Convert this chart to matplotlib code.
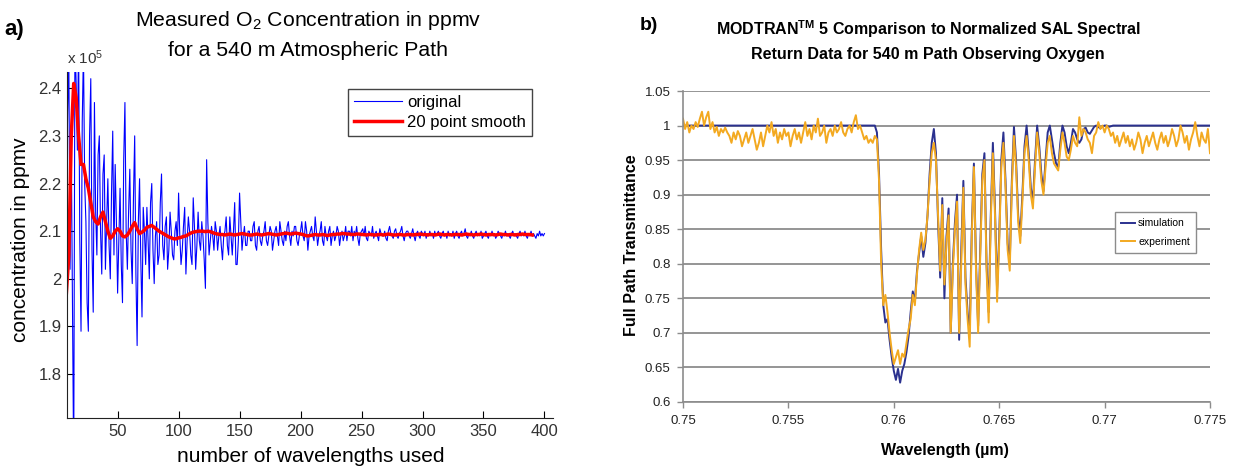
import numpy as np
import matplotlib
matplotlib.use("Agg")
import matplotlib.pyplot as plt
from matplotlib.ticker import FuncFormatter

# ---- a) O2 concentration vs number of wavelengths (values in units of 1e5 ppmv)
n_orig = np.arange(8, 401)
conc_orig = [
    2.16, 2.35, 2.46, 2.02, 2.28, 1.95, 1.60, 2.50, 2.41, 2.27,
    2.50, 2.08, 1.89, 2.33, 2.48, 2.20, 2.12, 1.95, 1.89, 2.30,
    2.42, 2.06, 1.93, 2.37, 2.14, 2.05, 2.26, 2.30, 2.10, 2.01,
    2.22, 2.26, 2.02, 2.12, 2.21, 2.07, 2.00, 2.18, 2.31, 2.05,
    2.24, 2.12, 1.97, 2.08, 2.19, 2.03, 1.95, 2.25, 2.37, 2.10,
    2.02, 2.14, 2.23, 2.06, 1.99, 2.17, 2.30, 2.01, 1.86, 2.12,
    2.21, 2.04, 1.92, 2.15, 2.10, 2.03, 2.15, 2.08, 2.00, 2.16,
    2.20, 2.06, 1.99, 2.09, 2.12, 2.03, 2.05, 2.16, 2.22, 2.07,
    2.04, 2.11, 2.13, 2.02, 2.06, 2.14, 2.10, 2.05, 2.04, 2.10,
    2.12, 2.07, 2.18, 2.09, 2.03, 2.06, 2.11, 2.15, 2.01, 2.08,
    2.13, 2.10, 2.05, 2.03, 2.17, 2.11, 2.02, 2.07, 2.14, 2.08,
    2.06, 2.12, 2.09, 2.04, 1.98, 2.25, 2.12, 2.05, 2.08, 2.11,
    2.09, 2.06, 2.12, 2.10, 2.06, 2.09, 2.11, 2.07, 2.04, 2.09,
    2.10, 2.13, 2.07, 2.05, 2.13, 2.09, 2.05, 2.10, 2.16, 2.03,
    2.03, 2.08, 2.18, 2.12, 2.06, 2.09, 2.11, 2.07, 2.07, 2.10,
    2.10, 2.08, 2.08, 2.11, 2.12, 2.07, 2.06, 2.10, 2.11, 2.08,
    2.07, 2.09, 2.10, 2.12, 2.08, 2.07, 2.09, 2.11, 2.10, 2.06,
    2.08, 2.10, 2.11, 2.09, 2.07, 2.12, 2.10, 2.08, 2.07, 2.10,
    2.08, 2.11, 2.12, 2.09, 2.07, 2.10, 2.09, 2.11, 2.11, 2.08,
    2.07, 2.09, 2.10, 2.12, 2.09, 2.08, 2.12, 2.10, 2.06, 2.09,
    2.10, 2.11, 2.09, 2.08, 2.13, 2.10, 2.07, 2.09, 2.10, 2.12,
    2.08, 2.07, 2.11, 2.09, 2.08, 2.10, 2.11, 2.07, 2.09, 2.10,
    2.08, 2.09, 2.11, 2.10, 2.07, 2.09, 2.10, 2.08, 2.09, 2.11,
    2.08, 2.10, 2.10, 2.09, 2.11, 2.08, 2.10, 2.09, 2.11, 2.085,
    2.07, 2.095, 2.10, 2.105, 2.09, 2.11, 2.085, 2.08, 2.10, 2.095,
    2.09, 2.11, 2.085, 2.095, 2.10, 2.09, 2.08, 2.105, 2.095, 2.09,
    2.09, 2.10, 2.085, 2.08, 2.10, 2.11, 2.095, 2.09, 2.085, 2.10,
    2.105, 2.09, 2.085, 2.095, 2.10, 2.11, 2.09, 2.08, 2.095, 2.10,
    2.10, 2.09, 2.085, 2.095, 2.105, 2.09, 2.08, 2.095, 2.10, 2.09,
    2.085, 2.10, 2.095, 2.09, 2.10, 2.085, 2.095, 2.09, 2.10, 2.09,
    2.095, 2.085, 2.10, 2.09, 2.095, 2.10, 2.09, 2.085, 2.095, 2.10,
    2.09, 2.095, 2.085, 2.10, 2.09, 2.095, 2.09, 2.10, 2.085, 2.095,
    2.10, 2.09, 2.085, 2.095, 2.10, 2.09, 2.095, 2.105, 2.09, 2.085,
    2.095, 2.09, 2.10, 2.09, 2.085, 2.095, 2.10, 2.09, 2.095, 2.09,
    2.10, 2.085, 2.09, 2.095, 2.10, 2.09, 2.085, 2.095, 2.09, 2.10,
    2.09, 2.095, 2.085, 2.09, 2.10, 2.095, 2.09, 2.085, 2.095, 2.09,
    2.10, 2.09, 2.095, 2.09, 2.085, 2.095, 2.10, 2.09, 2.095, 2.09,
    2.085, 2.095, 2.10, 2.09, 2.095, 2.09, 2.10, 2.09, 2.085, 2.095,
    2.09, 2.10, 2.09, 2.095, 2.09, 2.085, 2.095, 2.09, 2.10, 2.09,
    2.095, 2.09, 2.095,
]
n_smooth = np.arange(8, 391, 2)
conc_smooth = [
    1.97, 2.05, 2.30, 2.41, 2.38, 2.30, 2.24, 2.24, 2.21, 2.19,
    2.16, 2.13, 2.12, 2.115, 2.13, 2.14, 2.12, 2.10, 2.085, 2.09,
    2.10, 2.105, 2.10, 2.09, 2.088, 2.092, 2.10, 2.11, 2.118, 2.105,
    2.095, 2.098, 2.102, 2.108, 2.11, 2.112, 2.108, 2.104, 2.10, 2.097,
    2.094, 2.091, 2.088, 2.086, 2.084, 2.084, 2.086, 2.087, 2.089, 2.090,
    2.093, 2.096, 2.098, 2.099, 2.100, 2.100, 2.100, 2.099, 2.100, 2.099,
    2.097, 2.095, 2.094, 2.093, 2.093, 2.092, 2.093, 2.094, 2.093, 2.092,
    2.093, 2.094, 2.095, 2.094, 2.093, 2.092, 2.092, 2.093, 2.094, 2.093,
    2.092, 2.093, 2.094, 2.095, 2.094, 2.093, 2.092, 2.093, 2.094, 2.095,
    2.096, 2.095, 2.094, 2.095, 2.096, 2.095, 2.094, 2.093, 2.091, 2.090,
    2.091, 2.092, 2.093, 2.092, 2.092, 2.093, 2.092, 2.091, 2.092, 2.093,
    2.093, 2.094, 2.094, 2.095, 2.095, 2.094, 2.094, 2.093, 2.093, 2.094,
    2.094, 2.093, 2.093, 2.092, 2.093, 2.093, 2.092, 2.092, 2.093, 2.093,
    2.092, 2.093, 2.094, 2.093, 2.092, 2.092, 2.093, 2.093, 2.092, 2.092,
    2.093, 2.093, 2.092, 2.093, 2.093, 2.094, 2.093, 2.093, 2.092, 2.093,
    2.093, 2.092, 2.093, 2.094, 2.093, 2.092, 2.093, 2.093, 2.092, 2.093,
    2.093, 2.093, 2.092, 2.093, 2.094, 2.093, 2.093, 2.092, 2.093, 2.093,
    2.094, 2.093, 2.092, 2.093, 2.093, 2.093, 2.092, 2.093, 2.094, 2.093,
    2.093, 2.092, 2.093, 2.093, 2.092, 2.093, 2.093, 2.094, 2.093, 2.093,
    2.093, 2.092,
]

# ---- b) MODTRAN simulation vs measured transmittance, 0.1 nm steps
wavelength = np.linspace(0.75, 0.775, 251)
simulation = [
    1.0, 1.0, 1.0, 1.0, 1.0, 1.0, 1.0, 1.0, 1.0, 1.0, 1.0, 1.0, 1.0, 1.0, 1.0, 1.0, 1.0, 1.0, 1.0, 1.0,
    1.0, 1.0, 1.0, 1.0, 1.0, 1.0, 1.0, 1.0, 1.0, 1.0, 1.0, 1.0, 1.0, 1.0, 1.0, 1.0, 1.0, 1.0, 1.0, 1.0,
    1.0, 1.0, 1.0, 1.0, 1.0, 1.0, 1.0, 1.0, 1.0, 1.0, 1.0, 1.0, 1.0, 1.0, 1.0, 1.0, 1.0, 1.0, 1.0, 1.0,
    1.0, 1.0, 1.0, 1.0, 1.0, 1.0, 1.0, 1.0, 1.0, 1.0, 1.0, 1.0, 1.0, 1.0, 1.0, 1.0, 1.0, 1.0, 1.0, 1.0,
    1.0, 1.0, 1.0, 1.0, 1.0, 1.0, 1.0, 1.0, 1.0, 1.0, 1.0, 1.0,
    0.99, 0.93, 0.82, 0.74, 0.715, 0.72, 0.69, 0.665,
    0.645, 0.632, 0.648, 0.628, 0.645, 0.655, 0.672, 0.695, 0.73, 0.76,
    0.745, 0.79, 0.815, 0.84, 0.81, 0.83, 0.87, 0.93, 0.975, 0.995,
    0.96, 0.86, 0.78, 0.895, 0.75, 0.84, 0.88, 0.70, 0.80, 0.86,
    0.90, 0.69, 0.82, 0.92, 0.78, 0.73, 0.70, 0.85, 0.945, 0.80,
    0.71, 0.82, 0.93, 0.96, 0.80, 0.73, 0.87, 0.975, 0.88, 0.76,
    0.84, 0.95, 0.99, 0.92, 0.83, 0.80, 0.92, 0.998, 0.95, 0.87,
    0.84, 0.90, 0.97, 1.0, 0.96, 0.91, 0.89, 0.95, 1.0, 0.97,
    0.93, 0.905, 0.95, 0.99, 1.0, 0.98, 0.96, 0.945, 0.94, 0.975,
    1.0, 0.99, 0.97, 0.96, 0.975, 0.995, 0.99, 0.98, 0.975, 0.98,
    0.995, 0.997, 0.99, 0.988, 0.993, 0.998, 1.0, 0.998, 0.996, 0.999,
    1.0, 1.0, 0.998, 0.999,
    1.0, 1.0, 1.0, 1.0, 1.0, 1.0, 1.0, 1.0, 1.0, 1.0, 1.0, 1.0, 1.0, 1.0, 1.0, 1.0, 1.0, 1.0, 1.0, 1.0,
    1.0, 1.0, 1.0, 1.0, 1.0, 1.0, 1.0, 1.0, 1.0, 1.0, 1.0, 1.0, 1.0, 1.0, 1.0, 1.0, 1.0, 1.0, 1.0, 1.0,
    1.0, 1.0, 1.0, 1.0, 1.0, 1.0, 1.0,
]
experiment = [
    1.01, 0.995, 1.005, 0.99, 1.0, 0.995, 1.005, 0.998, 1.01, 1.02,
    1.0, 1.012, 1.02, 0.995, 1.005, 0.99, 0.998, 0.985, 0.995, 0.99,
    0.997, 0.99, 0.985, 0.975, 0.99, 0.98, 0.992, 0.985, 0.97, 0.98,
    0.99, 0.975, 0.985, 0.995, 0.98, 0.965, 0.975, 0.99, 0.97, 0.985,
    1.0, 0.99, 1.005, 0.985, 0.995, 0.975, 0.99, 0.98, 0.995, 0.985,
    0.99, 0.97, 0.985, 0.995, 0.98, 0.99, 0.975, 0.99, 1.005, 0.985,
    0.995, 0.98, 1.0, 0.99, 1.01, 0.985, 0.99, 1.0, 0.975, 0.99,
    0.995, 0.985, 1.0, 0.99, 0.995, 1.005, 0.99, 0.985, 0.995, 1.0,
    0.99, 1.005, 1.015, 0.995, 1.0, 0.99, 0.98, 0.985, 0.975, 0.98,
    0.975, 0.985,
    0.98, 0.92, 0.80, 0.74, 0.755, 0.73, 0.70, 0.675,
    0.655, 0.665, 0.675, 0.655, 0.67, 0.665, 0.685, 0.705, 0.72, 0.755,
    0.74, 0.785, 0.82, 0.845, 0.82, 0.835, 0.87, 0.92, 0.96, 0.975,
    0.95, 0.87, 0.79, 0.885, 0.77, 0.83, 0.87, 0.70, 0.79, 0.85,
    0.89, 0.70, 0.80, 0.91, 0.77, 0.72, 0.68, 0.84, 0.94, 0.79,
    0.70, 0.81, 0.92, 0.95, 0.79, 0.715, 0.86, 0.96, 0.87, 0.745,
    0.83, 0.94, 0.975, 0.91, 0.82, 0.79, 0.91, 0.985, 0.94, 0.86,
    0.83, 0.89, 0.96, 0.985, 0.95, 0.90, 0.88, 0.94, 0.99, 0.96,
    0.92, 0.90, 0.94, 0.975, 0.985, 0.96, 0.945, 0.94, 0.935, 0.965,
    0.99, 0.975, 0.955, 0.95, 0.965, 0.985, 0.975, 0.97, 1.012, 0.985,
    0.995, 0.99, 0.98, 0.975, 0.96, 0.985, 0.99, 1.005, 0.995, 1.0,
    0.99,
    1.0, 0.995, 0.985, 0.99, 0.975, 0.985, 0.97, 0.98, 0.99, 0.975,
    0.985, 0.97, 0.98, 0.965, 0.975, 0.99, 0.98, 0.96, 0.975, 0.985,
    0.97, 0.98, 0.99, 0.975, 0.965, 0.98, 0.99, 0.975, 0.985, 0.97,
    0.98, 0.995, 0.985, 0.97, 0.98, 1.0, 0.99, 0.975, 0.985, 0.965,
    0.98, 0.99, 1.005, 0.985, 0.97, 0.99, 0.98, 0.975, 0.995, 0.96,
]

plt.rcParams['font.family'] = ['Liberation Sans', 'DejaVu Sans']
plt.rcParams['mathtext.fontset'] = 'custom'
plt.rcParams['mathtext.rm'] = 'Liberation Sans'
plt.rcParams['mathtext.bf'] = 'Liberation Sans:bold'
plt.rcParams['mathtext.default'] = 'rm'

W, H = 1237, 470
fig = plt.figure(figsize=(W / 100, H / 100), dpi=100)
fig.patch.set_facecolor('white')

gfmt = FuncFormatter(lambda v, p: '%g' % round(v, 4))

# ---------------- panel a
ax1 = fig.add_axes([67 / W, 1 - 418 / H, (553 - 67) / W, (418 - 72) / H])
ax1.plot(n_orig, conc_orig, color='#0000ff', lw=0.8, label='original')
ax1.plot(n_smooth, conc_smooth, color='#ff0000', lw=2.5, label='20 point smooth')
ax1.set_xlim(8.5, 407)
ax1.set_ylim(1.708, 2.434)
ax1.set_xticks(np.arange(50, 401, 50))
ax1.set_yticks([1.8, 1.9, 2.0, 2.1, 2.2, 2.3, 2.4])
ax1.yaxis.set_major_formatter(gfmt)
ax1.tick_params(direction='in', length=5, width=0.8, labelsize=12,
                labelcolor='#333333', pad=4)
for s in ['top', 'right']:
    ax1.spines[s].set_visible(False)
for s in ['left', 'bottom']:
    ax1.spines[s].set_color('#222222')
leg1 = ax1.legend(loc='upper left', bbox_to_anchor=(0.578, 0.951), fontsize=12,
                  frameon=True, fancybox=False, framealpha=1, handlelength=2.9,
                  borderpad=0.35, labelspacing=0.3, handletextpad=0.3,
                  borderaxespad=0)
leg1.get_frame().set_edgecolor('#444444')
leg1.get_frame().set_linewidth(1.0)

fig.text(4 / W, 1 - 29 / H, 'a)', fontsize=16, fontweight='bold', va='center')
fig.text(308 / W, 1 - 20 / H, r'Measured O$_2$ Concentration in ppmv',
         ha='center', va='center', fontsize=15.3)
fig.text(308 / W, 1 - 50 / H, 'for a 540 m Atmospheric Path',
         ha='center', va='center', fontsize=15.3)
fig.text(67 / W, 1 - 58 / H, r'x 10$^5$', fontsize=11, ha='left', va='center',
         color='#333333')
fig.text(21 / W, 1 - 240 / H, 'concentration in ppmv', rotation=90,
         ha='center', va='center', fontsize=15)
fig.text(311 / W, 1 - 457 / H, 'number of wavelengths used',
         ha='center', va='center', fontsize=15)

# ---------------- panel b
ax2 = fig.add_axes([683 / W, 1 - 402 / H, (1210 - 683) / W, (402 - 91) / H])
ax2.plot(wavelength, simulation, color='#2b318f', lw=1.4, label='simulation')
ax2.plot(wavelength, experiment, color='#f3a920', lw=1.4, label='experiment')
ax2.set_xlim(0.75, 0.775)
ax2.set_ylim(0.6, 1.05)
ax2.set_xticks(np.linspace(0.75, 0.775, 6))
ax2.set_yticks(np.linspace(0.6, 1.05, 10))
ax2.xaxis.set_major_formatter(gfmt)
ax2.yaxis.set_major_formatter(gfmt)
ax2.yaxis.grid(True, color='#8c8c8c', lw=1.3)
ax2.set_axisbelow(True)
ax2.tick_params(direction='out', length=4, width=1, color='#8c8c8c',
                labelsize=9.5, labelcolor='#222222', pad=5)
for s in ['top', 'right']:
    ax2.spines[s].set_visible(False)
for s in ['left', 'bottom']:
    ax2.spines[s].set_color('#8c8c8c')
    ax2.spines[s].set_linewidth(1.2)
leg2 = ax2.legend(loc='upper left', bbox_to_anchor=(0.82, 0.611), fontsize=7.5,
                  frameon=True, fancybox=False, framealpha=1, handlelength=1.3,
                  borderpad=0.6, labelspacing=0.8, handletextpad=0.3,
                  borderaxespad=0)
leg2.get_frame().set_edgecolor('#8c8c8c')
leg2.get_frame().set_linewidth(1.0)

fig.text(640 / W, 1 - 26 / H, 'b)', fontsize=14, fontweight='bold', va='center')
fig.text(928 / W, 1 - 29 / H,
         r'MODTRAN$^{\mathbf{TM}}$ 5 Comparison to Normalized SAL Spectral',
         ha='center', va='center', fontsize=11.5, fontweight='bold')
fig.text(928 / W, 1 - 55 / H, 'Return Data for 540 m Path Observing Oxygen',
         ha='center', va='center', fontsize=11.5, fontweight='bold')
fig.text(632 / W, 1 - 245 / H, 'Full Path Transmittance', rotation=90,
         ha='center', va='center', fontsize=11.5, fontweight='bold')
fig.text(945 / W, 1 - 450 / H, 'Wavelength (\u00b5m)',
         ha='center', va='center', fontsize=11.5, fontweight='bold')

fig.savefig('out.png', dpi=100)
